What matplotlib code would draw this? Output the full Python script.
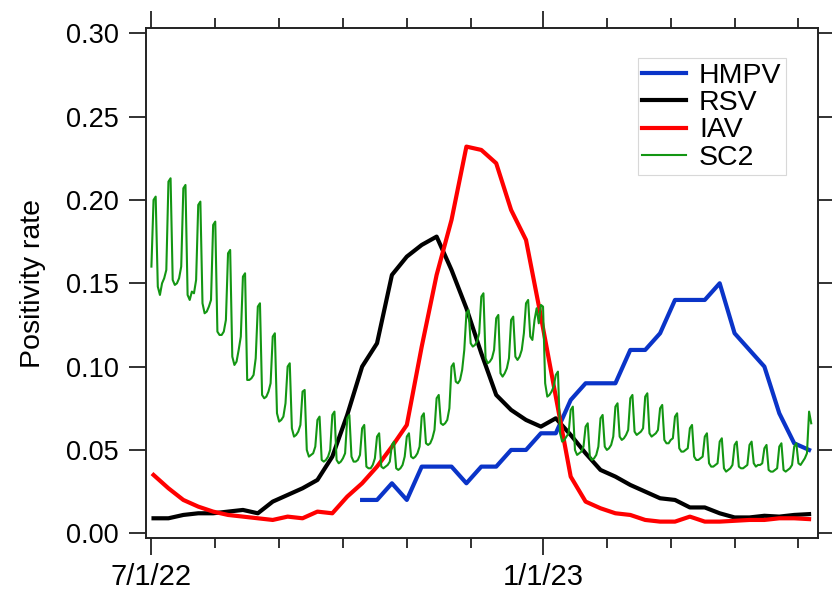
import datetime
import matplotlib
matplotlib.use('agg')
import matplotlib.pyplot as plt

plt.rcParams['font.family'] = ['Liberation Sans', 'DejaVu Sans']

# weekly positivity, weeks ending on Saturdays, first week ends 7/2/22
week_start = datetime.date(2022, 7, 2)
rsv = [0.009, 0.009, 0.011, 0.012, 0.012, 0.013, 0.014, 0.012, 0.019, 0.023,
       0.027, 0.032, 0.046, 0.071, 0.100, 0.114, 0.155, 0.166, 0.173, 0.178,
       0.158, 0.135, 0.108, 0.083, 0.074, 0.068, 0.064, 0.069, 0.059, 0.048,
       0.038, 0.034, 0.029, 0.025, 0.021, 0.020, 0.0155, 0.0155, 0.012, 0.0095,
       0.0095, 0.0105, 0.010, 0.011, 0.0115]
iav = [0.035, 0.027, 0.020, 0.016, 0.013, 0.011, 0.010, 0.009, 0.008, 0.010,
       0.009, 0.013, 0.012, 0.022, 0.030, 0.040, 0.052, 0.065, 0.112, 0.155,
       0.188, 0.232, 0.230, 0.222, 0.194, 0.176, 0.130, 0.082, 0.034, 0.019,
       0.015, 0.012, 0.011, 0.008, 0.007, 0.007, 0.010, 0.007, 0.007, 0.0075,
       0.008, 0.008, 0.009, 0.009, 0.0085]

# HMPV only reported from 10/8/22
hmpv_start = datetime.date(2022, 10, 8)
hmpv = [0.02, 0.02, 0.03, 0.02, 0.04, 0.04, 0.04, 0.03, 0.04, 0.04,
        0.05, 0.05, 0.06, 0.06, 0.08, 0.09, 0.09, 0.09, 0.11, 0.11,
        0.12, 0.14, 0.14, 0.14, 0.15, 0.12, 0.11, 0.10, 0.072, 0.054,
        0.050]

# SARS-CoV-2 daily positivity from 7/1/22 (one row per Fri..Thu week)
sc2_start = datetime.date(2022, 7, 1)
sc2 = [
    0.160, 0.200, 0.202, 0.148, 0.143, 0.150, 0.153,
    0.158, 0.211, 0.213, 0.152, 0.149, 0.150, 0.153,
    0.160, 0.207, 0.209, 0.143, 0.140, 0.145, 0.144,
    0.152, 0.197, 0.199, 0.138, 0.132, 0.133, 0.136,
    0.140, 0.185, 0.187, 0.121, 0.119, 0.119, 0.121,
    0.128, 0.168, 0.170, 0.106, 0.101, 0.103, 0.110,
    0.118, 0.154, 0.156, 0.092, 0.092, 0.093, 0.095,
    0.105, 0.136, 0.138, 0.083, 0.081, 0.082, 0.085,
    0.090, 0.118, 0.120, 0.072, 0.067, 0.068, 0.070,
    0.078, 0.100, 0.102, 0.063, 0.058, 0.059, 0.061,
    0.065, 0.085, 0.086, 0.050, 0.046, 0.047, 0.048,
    0.052, 0.068, 0.070, 0.044, 0.043, 0.044, 0.046,
    0.050, 0.071, 0.073, 0.044, 0.042, 0.043, 0.045,
    0.048, 0.069, 0.071, 0.046, 0.043, 0.043, 0.044,
    0.047, 0.063, 0.065, 0.040, 0.039, 0.039, 0.041,
    0.045, 0.058, 0.060, 0.040, 0.039, 0.040, 0.041,
    0.043, 0.053, 0.055, 0.039, 0.038, 0.039, 0.041,
    0.046, 0.058, 0.060, 0.046, 0.045, 0.046, 0.048,
    0.052, 0.070, 0.072, 0.054, 0.053, 0.054, 0.057,
    0.062, 0.081, 0.083, 0.066, 0.065, 0.066, 0.068,
    0.075, 0.100, 0.102, 0.091, 0.090, 0.092, 0.098,
    0.110, 0.132, 0.134, 0.114, 0.112, 0.113, 0.115,
    0.120, 0.142, 0.144, 0.105, 0.102, 0.103, 0.105,
    0.110, 0.129, 0.131, 0.096, 0.094, 0.096, 0.099,
    0.105, 0.128, 0.130, 0.106, 0.104, 0.106, 0.110,
    0.120, 0.138, 0.140, 0.118, 0.116, 0.128, 0.135,
    0.126, 0.137, 0.136, 0.090, 0.082, 0.083, 0.085,
    0.088, 0.095, 0.097, 0.060, 0.055, 0.056, 0.058,
    0.060, 0.074, 0.076, 0.050, 0.047, 0.048, 0.049,
    0.052, 0.064, 0.066, 0.046, 0.044, 0.045, 0.047,
    0.052, 0.069, 0.071, 0.052, 0.050, 0.051, 0.053,
    0.058, 0.076, 0.078, 0.058, 0.056, 0.057, 0.059,
    0.062, 0.081, 0.083, 0.061, 0.059, 0.060, 0.061,
    0.063, 0.082, 0.084, 0.060, 0.058, 0.059, 0.060,
    0.062, 0.075, 0.077, 0.056, 0.054, 0.054, 0.056,
    0.057, 0.070, 0.072, 0.051, 0.049, 0.049, 0.050,
    0.051, 0.063, 0.065, 0.046, 0.044, 0.044, 0.045,
    0.046, 0.058, 0.060, 0.042, 0.040, 0.040, 0.041,
    0.042, 0.055, 0.057, 0.039, 0.037, 0.038, 0.039,
    0.041, 0.053, 0.055, 0.040, 0.039, 0.039, 0.040,
    0.041, 0.053, 0.055, 0.042, 0.040, 0.041, 0.041,
    0.042, 0.051, 0.053, 0.038, 0.037, 0.037, 0.038,
    0.039, 0.052, 0.054, 0.038, 0.037, 0.038, 0.039,
    0.041, 0.052, 0.054, 0.042, 0.041, 0.043, 0.045,
    0.048, 0.073, 0.066,
]

major_dates = [datetime.date(2022, 7, 1), datetime.date(2023, 1, 1)]
major_labels = ['7/1/22', '1/1/23']

week_dates = [week_start + datetime.timedelta(days=7 * i) for i in range(len(rsv))]
hmpv_dates = [hmpv_start + datetime.timedelta(days=7 * i) for i in range(len(hmpv))]
sc2_dates = [sc2_start + datetime.timedelta(days=i) for i in range(len(sc2))]

fig = plt.figure(figsize=(8.32, 5.94), dpi=100)
ax = fig.add_axes([0.1749, 0.0938, 0.8083, 0.8586])

ax.plot(hmpv_dates, hmpv, color='#0a34c8', lw=3.0, label='HMPV')
ax.plot(week_dates, rsv, color='black', lw=3.0, label='RSV')
ax.plot(week_dates, iav, color='#ff0000', lw=3.0, label='IAV')
ax.plot(sc2_dates, sc2, color='#139613', lw=1.5, label='SC2')

# axis range (set after the ticks so the minor ticks don't stretch it)
x0 = datetime.datetime(2022, 7, 1)
xmin = x0 - datetime.timedelta(days=2.77)
xmax = x0 + datetime.timedelta(days=313.2)

ax.set_yticks([0.0, 0.05, 0.10, 0.15, 0.20, 0.25, 0.30])
ax.set_yticklabels([f"{v:.2f}" for v in ax.get_yticks()])
ax.set_xticks(major_dates)
ax.set_xticklabels(major_labels)
minor = []
for d in major_dates:
    for k in range(1, 6):
        t = d + datetime.timedelta(days=30 * k)
        if t < xmax.date():
            minor.append(t)
ax.set_xticks(minor, minor=True)
ax.set_xlim(xmin, xmax)
ax.set_ylim(-0.003, 0.303)

ax.tick_params(axis='both', which='major', direction='out', length=12.5, width=1.3,
               top=True, right=True, color='#222222')
ax.tick_params(axis='x', which='minor', direction='out', length=7, width=1.3,
               top=True, bottom=True, color='#222222')
ax.tick_params(axis='x', which='major', labelsize=21, pad=5)
ax.tick_params(axis='y', which='major', labelsize=19.5, pad=7)
for s in ax.spines.values():
    s.set_linewidth(1.4)
    s.set_color('#222222')

ax.set_ylabel('Positivity rate', fontsize=20.5)
ax.yaxis.set_label_coords(-0.148, 0.5)

leg = ax.legend(loc='upper left', bbox_to_anchor=(0.732, 0.941), borderaxespad=0,
                fontsize=20.5, frameon=True, fancybox=False, framealpha=1,
                edgecolor='#d8d8d8', borderpad=0.15, labelspacing=0.05,
                handlelength=1.55, handletextpad=0.45)
leg.get_frame().set_linewidth(0.8)

fig.savefig('out.png', dpi=100)
plt.close(fig)
